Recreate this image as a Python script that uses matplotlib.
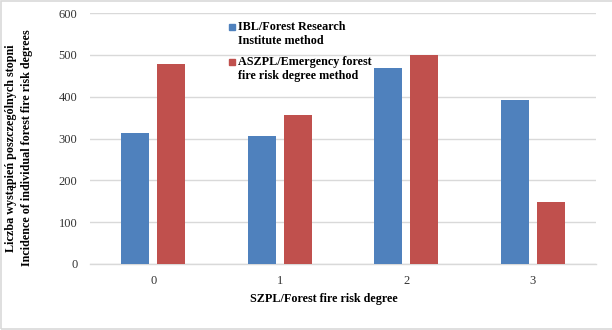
import matplotlib
matplotlib.use("Agg")
import matplotlib.pyplot as plt
from matplotlib.patches import Rectangle
import numpy as np

categories = ["0", "1", "2", "3"]
ibl_values = [314, 306, 469, 392]
aszpl_values = [477, 355, 500, 149]
series_names = ["IBL/Forest Research\nInstitute method",
                "ASZPL/Emergency forest\nfire risk degree method"]
y_ticks = [0, 100, 200, 300, 400, 500, 600]
x_title = "SZPL/Forest fire risk degree"
y_title = "Liczba wystąpień poszczególnych stopni\nIncidence of individual forest fire risk degrees"

BLUE = "#4F81BD"
RED = "#C0504D"
GRID = "#D9D9D9"
SERIF = ["Liberation Serif", "DejaVu Serif"]

plt.rcParams["font.family"] = SERIF

fig = plt.figure(figsize=(6.12, 3.30), dpi=100)
ax = fig.add_axes([0.147, 0.2, 0.827, 0.7606])

x = np.arange(len(categories))
w = 0.221
off = 0.142
ax.bar(x - off, ibl_values, width=w, color=BLUE, zorder=3)
ax.bar(x + off, aszpl_values, width=w, color=RED, zorder=3)

ax.set_xlim(-0.5, len(categories) - 0.5)
ax.set_ylim(0, 600)
ax.set_yticks(y_ticks)
ax.set_xticks(x)
ax.set_xticklabels(categories)
ax.tick_params(axis="both", length=0, labelsize=9, colors="#333333")
ax.tick_params(axis="y", pad=9)
ax.tick_params(axis="x", pad=8)
ax.yaxis.grid(True, color=GRID, linewidth=1.0, zorder=0)
for side in ["top", "right", "left"]:
    ax.spines[side].set_visible(False)
ax.spines["bottom"].set_color(GRID)
ax.spines["bottom"].set_linewidth(1.0)

fig.text(324 / 612, 1 - 299 / 330, x_title, ha="center", va="center",
         fontsize=8.7, fontweight="bold")
fig.text(19 / 612, 1 - 148 / 330, y_title, rotation=90, ha="center", va="center",
         fontsize=8.75, fontweight="bold", linespacing=1.45)

# legend drawn as square markers with wrapped labels
legend_rows = [(23, BLUE, series_names[0]), (58, RED, series_names[1])]
for top, color, name in legend_rows:
    fig.patches.append(Rectangle((229 / 612, 1 - (top + 6.5) / 330), 6 / 612, 5.5 / 330,
                                 transform=fig.transFigure, color=color))
    fig.text(238 / 612, 1 - (top - 2) / 330, name, ha="left", va="top",
             fontsize=8.7, fontweight="bold", linespacing=1.2)

# chart area border (runs off the right edge)
fig.patches.append(Rectangle((0.5 / 612, 1.5 / 330), 620 / 612, 327.5 / 330,
                             transform=fig.transFigure, fill=False,
                             edgecolor=GRID, linewidth=1.2))

fig.savefig("out.png", dpi=100)
